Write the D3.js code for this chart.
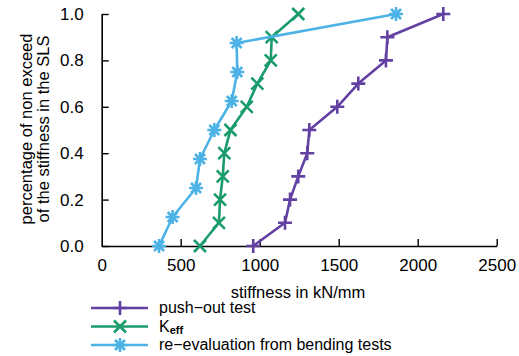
<!DOCTYPE html>
<html><head><meta charset="utf-8">
<script src="https://cdn.jsdelivr.net/npm/d3@7"></script>
<style>
html,body{margin:0;padding:0;background:#fff;}
svg text{font-family:"Liberation Sans",Arial,Helvetica,sans-serif;fill:#000;}
</style></head>
<body><svg id="c" width="519" height="356"></svg>
<script>
const pushoutX = [959, 1160, 1192, 1244, 1301, 1314, 1491, 1624, 1799, 1808, 2162];
const pushoutY = [0, 0.1, 0.2, 0.3, 0.4, 0.5, 0.6, 0.7, 0.8, 0.9, 1.0];
const keffX = [622, 742, 749, 766, 776, 815, 918, 985, 1070, 1076, 1244];
const keffY = [0, 0.1, 0.2, 0.3, 0.4, 0.5, 0.6, 0.7, 0.8, 0.9, 1.0];
const bendX = [363, 449, 597, 622, 713, 823, 858, 854, 1863];
const bendY = [0, 0.125, 0.25, 0.375, 0.5, 0.625, 0.75, 0.875, 1.0];
const xTicks = [0, 500, 1000, 1500, 2000, 2500];
const yTicks = [0, 0.2, 0.4, 0.6, 0.8, 1.0];
const seriesNames = ["push\u2212out test", "K", "re\u2212evaluation from bending tests"];
const colors = ["#6241a3", "#1a9b6c", "#4db3e6"];
const markers = ["plus", "cross", "star"];

const svg = d3.select("#c");
const x = d3.scaleLinear().domain([0, 2500]).range([101.7, 496.7]);
const y = d3.scaleLinear().domain([0, 1]).range([246, 14]);

function markerPath(type){
  if(type==="plus") return "M-7,0H7M0,-7V7";
  if(type==="cross") return "M-6,-6L6,6M-6,6L6,-6";
  return "M-7,0H7M0,-7V7M-5,-5L5,5M-5,5L5,-5";
}

// axes
const xAxis = d3.axisBottom(x).tickValues(xTicks).tickFormat(d3.format("d")).tickSizeInner(-7).tickSizeOuter(0).tickPadding(13);
const yAxis = d3.axisLeft(y).tickValues(yTicks).tickFormat(d3.format(".1f")).tickSizeInner(-7).tickSizeOuter(0).tickPadding(18);
const gx = svg.append("g").attr("transform", "translate(0,246)").call(xAxis);
const gy = svg.append("g").attr("transform", "translate(101.7,0)").call(yAxis);
[gx, gy].forEach(g => {
  g.select(".domain").attr("stroke", "#000").attr("stroke-width", 1.6);
  g.selectAll(".tick line").attr("stroke", "#000").attr("stroke-width", 1.4);
  g.selectAll(".tick text").attr("font-size", 17).attr("font-family", "Liberation Sans, Arial, sans-serif").attr("fill", "#000");
});
gx.selectAll(".tick").filter(d => d === 0).select("line").remove();

// axis labels
svg.append("text").attr("x", 298).attr("y", 298).attr("text-anchor", "middle").attr("font-size", 16.5).text("stiffness in kN/mm");
const yl = svg.append("g").attr("transform", "translate(0,129) rotate(-90)");
yl.append("text").attr("x", 0).attr("y", 32).attr("text-anchor", "middle").attr("font-size", 16.5).text("percentage of non exceed");
yl.append("text").attr("x", 0).attr("y", 49).attr("text-anchor", "middle").attr("font-size", 16.5).text("of the stiffness in the SLS");

// series
const series = [
  {xs: pushoutX, ys: pushoutY},
  {xs: keffX, ys: keffY},
  {xs: bendX, ys: bendY}
];
const line = d3.line().x(d => x(d[0])).y(d => y(d[1]));
series.forEach((s, i) => {
  const pts = s.xs.map((v, j) => [v, s.ys[j]]);
  const g = svg.append("g");
  g.append("path").attr("d", line(pts)).attr("fill", "none").attr("stroke", colors[i]).attr("stroke-width", 2.6).attr("stroke-linejoin", "round");
  g.selectAll("path.m").data(pts).join("path").attr("class", "m")
    .attr("transform", d => `translate(${x(d[0])},${y(d[1])})`)
    .attr("d", markerPath(markers[i])).attr("fill", "none").attr("stroke", colors[i]).attr("stroke-width", 2.6);
});

// legend
const legY = [308, 326.5, 345];
seriesNames.forEach((name, i) => {
  const g = svg.append("g").attr("transform", `translate(0,${legY[i]})`);
  g.append("line").attr("x1", 91).attr("x2", 148).attr("y1", 0).attr("y2", 0).attr("stroke", colors[i]).attr("stroke-width", 2.6);
  g.append("path").attr("transform", "translate(120,0)").attr("d", markerPath(markers[i])).attr("fill", "none").attr("stroke", colors[i]).attr("stroke-width", 2.6);
  const t = g.append("text").attr("x", 159).attr("y", 5).attr("font-size", 16);
  if(i === 1){
    t.append("tspan").text(name);
    t.append("tspan").attr("dy", 2).attr("font-size", 11).attr("font-weight", "bold").text("eff");
  } else {
    t.text(name);
  }
});
</script></body></html>
